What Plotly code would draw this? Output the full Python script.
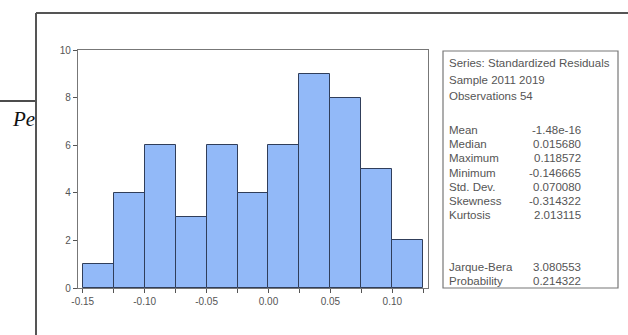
import plotly.graph_objects as go

# ---- data ----
bin_edges = [-0.15, -0.125, -0.10, -0.075, -0.05, -0.025, 0.0, 0.025, 0.05, 0.075, 0.10, 0.125]
counts = [1, 4, 6, 3, 6, 4, 6, 9, 8, 5, 2]
x_tick_labels = ["-0.15", "-0.10", "-0.05", "0.00", "0.05", "0.10"]
y_ticks = [0, 2, 4, 6, 8, 10]

header_lines = ["Series: Standardized Residuals", "Sample 2011 2019", "Observations 54"]
stat_names = ["Mean", "Median", "Maximum", "Minimum", "Std. Dev.", "Skewness", "Kurtosis"]
stat_values = ["-1.48e-16", "0.015680", "0.118572", "-0.146665", "0.070080", "-0.314322", "2.013115"]
test_names = ["Jarque-Bera", "Probability"]
test_values = ["3.080553", "0.214322"]

# ---- layout geometry (pixels) ----
W, H = 628, 335
PL, PR, PT, PB = 78, 428, 50, 288


def px(x):
    return (x - PL) / (PR - PL)


def py(y):
    return (PB - y) / (PB - PT)


centers = [(a + b) / 2 for a, b in zip(bin_edges[:-1], bin_edges[1:])]
widths = [b - a for a, b in zip(bin_edges[:-1], bin_edges[1:])]

fig = go.Figure(go.Bar(
    x=centers, y=counts, width=widths,
    marker=dict(color="#92b9f8", line=dict(color="#303e5a", width=1)),
    hoverinfo="x+y",
))

label_vals = [float(t) for t in x_tick_labels]
tick_text = []
for e in bin_edges:
    match = [t for t, v in zip(x_tick_labels, label_vals) if abs(v - e) < 1e-9]
    tick_text.append(match[0] if match else "")

axis_font = dict(family="Liberation Sans, Arial, sans-serif", size=10, color="#555555")
fig.update_xaxes(
    range=[-0.1538, 0.1288], tickvals=bin_edges, ticktext=tick_text,
    ticks="outside", ticklen=4, tickcolor="#555555", tickwidth=1,
    showline=True, linecolor="#777777", linewidth=1.2, mirror=True,
    showgrid=False, zeroline=False, tickfont=axis_font,
)
fig.update_yaxes(
    range=[0, 10], tickvals=y_ticks,
    ticks="outside", ticklen=4, tickcolor="#555555", tickwidth=1,
    showline=True, linecolor="#777777", linewidth=1.2, mirror=True,
    showgrid=False, zeroline=False, tickfont=axis_font,
)

shapes = [
    # outer frame (left and top)
    dict(type="line", xref="paper", yref="paper", x0=px(36), x1=px(36), y0=py(13), y1=py(340),
         line=dict(color="#555555", width=2)),
    dict(type="line", xref="paper", yref="paper", x0=px(36), x1=px(640), y0=py(13), y1=py(13),
         line=dict(color="#555555", width=2)),
    # page fragment line
    dict(type="line", xref="paper", yref="paper", x0=px(-2), x1=px(35), y0=py(101), y1=py(101),
         line=dict(color="#111111", width=1.5)),
    # stats box
    dict(type="rect", xref="paper", yref="paper", x0=px(443), x1=px(618), y0=py(288), y1=py(51),
         line=dict(color="#777777", width=1.2), fillcolor="rgba(0,0,0,0)"),
]

stat_font = dict(family="Liberation Sans, Arial, sans-serif", size=11.5, color="#555555")
annotations = []
for i, t in enumerate(header_lines):
    annotations.append(dict(text=t, x=px(447), y=py(63 + i * 16.5), xref="paper", yref="paper",
                            xanchor="left", yanchor="middle", showarrow=False, font=stat_font))
for i, (n, v) in enumerate(zip(stat_names, stat_values)):
    yy = 130 + i * 14.2
    annotations.append(dict(text=n, x=px(447), y=py(yy), xref="paper", yref="paper",
                            xanchor="left", yanchor="middle", showarrow=False, font=stat_font))
    annotations.append(dict(text=v, x=px(583), y=py(yy), xref="paper", yref="paper",
                            xanchor="right", yanchor="middle", showarrow=False, font=stat_font))
for i, (n, v) in enumerate(zip(test_names, test_values)):
    yy = 266.5 + i * 14.2
    annotations.append(dict(text=n, x=px(447), y=py(yy), xref="paper", yref="paper",
                            xanchor="left", yanchor="middle", showarrow=False, font=stat_font))
    annotations.append(dict(text=v, x=px(583), y=py(yy), xref="paper", yref="paper",
                            xanchor="right", yanchor="middle", showarrow=False, font=stat_font))

# page fragment text "Pe", clipped by the frame
annotations.append(dict(text="<i>Pe</i>", x=px(10), y=py(119), xref="paper", yref="paper",
                        xanchor="left", yanchor="middle", showarrow=False,
                        font=dict(family="Liberation Serif, Times New Roman, serif", size=21, color="#111111")))
annotations.append(dict(text="", x=px(37.2), y=py(119), xref="paper", yref="paper",
                        xanchor="left", yanchor="middle", showarrow=False, width=18, height=28,
                        bgcolor="white", borderpad=0, borderwidth=0))

fig.update_layout(
    width=W, height=H,
    margin=dict(l=PL, r=W - PR, t=PT, b=H - PB, pad=0),
    paper_bgcolor="white", plot_bgcolor="white",
    showlegend=False, bargap=0,
    shapes=shapes, annotations=annotations,
)

fig.write_html("out.html", config={"displayModeBar": False},
               post_script="document.body.style.margin='0';")
